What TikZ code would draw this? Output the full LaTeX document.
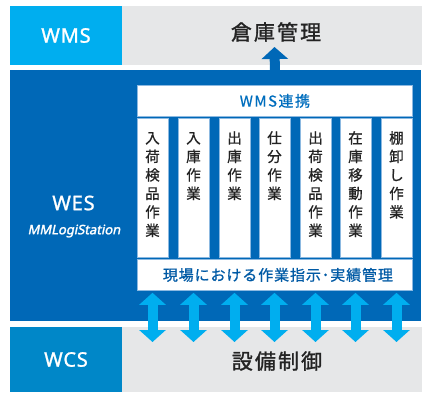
\documentclass[tikz,border=0pt]{standalone}
\usepackage{fontspec}
\setmainfont{Noto Sans}
\newfontfamily\jp{Noto Sans CJK JP}[FakeBold=0.8]
\newfontfamily\jpsp{Noto Sans CJK JP}[LetterSpace=10,FakeBold=0.6]
\newfontfamily\jptitle{Noto Sans CJK JP}[LetterSpace=10,FakeBold=1.3]
\newfontfamily\jpnarrow{Noto Sans CJK JP}[LetterSpace=6,FakeBold=0.9]
\newfontfamily\lsp{Noto Sans}[LetterSpace=4,FakeBold=1.2]
\newfontfamily\mmfont{Noto Sans}[FakeBold=2,FakeSlant=0.2]
\usetikzlibrary{arrows.meta}
\definecolor{wmscyan}{RGB}{0,174,239}
\definecolor{wesblue}{RGB}{0,104,183}
\definecolor{wcsblue}{RGB}{0,135,200}
\definecolor{bandgray}{RGB}{230,231,232}
\definecolor{boxline}{RGB}{140,185,225}
\definecolor{inkgray}{RGB}{35,35,35}
\definecolor{linkblue}{RGB}{0,110,190}
\definecolor{jissekiblue}{RGB}{0,90,165}
\newcommand{\tate}[1]{\parbox[t][139pt][t]{31pt}{\centering\rule{0pt}{25pt}#1}}

\begin{document}
\begin{tikzpicture}[x=1pt,y=-1pt,
    band/.style={anchor=north west, inner sep=0pt, outer sep=0pt},
    tag/.style={band, text=white, font=\lsp\fontsize{20pt}{24pt}\selectfont},
    title/.style={text=inkgray, font=\jptitle\fontsize{21pt}{24pt}\selectfont},
    wbox/.style={draw=boxline, line width=0.8pt, fill=white, inner sep=0pt, anchor=north west},
    sagyo/.style={wbox, anchor=north, text=inkgray, font=\jp\fontsize{14.5pt}{18.5pt}\selectfont},
    dbl/.style={wmscyan, line width=10pt, {Triangle[width=26pt,length=12pt]}-{Triangle[width=26pt,length=12pt]}},
    up/.style={wesblue, line width=10pt, -{Triangle[width=26pt,length=12pt]}}]
    \useasboundingbox (0,0) rectangle (424,392);
    \node[tag, fill=wmscyan, minimum width=112pt, minimum height=59pt] (wms) at (10,6) {WMS};
    \node[band, fill=bandgray, minimum width=300pt, minimum height=59pt] (soko) at (122,6) {};
    \node[title] (kanri) at (276,32) {倉庫管理};
    \node[band, fill=wesblue, minimum width=411pt, minimum height=251pt] (wes) at (10,70) {};
    \node[text=white, font=\lsp\fontsize{20pt}{24pt}\selectfont] (wesname) at (73.5,203) {WES};
    \node[text=white, font=\mmfont\fontsize{13pt}{16pt}\selectfont] (mmlogi) at (74,231) {MMLogiStation};
    \node[tag, fill=wcsblue, minimum width=112pt, minimum height=65pt] (wcs) at (10,327) {WCS};
    \node[band, fill=bandgray, minimum width=300pt, minimum height=65pt] (setsubi) at (122,327) {};
    \node[title] (seigyo) at (277,361) {設備制御};
    \node[wbox, minimum width=275pt, minimum height=31pt, text=linkblue, font=\jpsp\fontsize{15pt}{18pt}\selectfont] (renkei) at (137,85) {WMS連携};
    \foreach \n/\x/\t in {1/152.5/{入\\荷\\検\\品\\作\\業}, 2/193.5/{入\\庫\\作\\業}, 3/234.5/{出\\庫\\作\\業}, 4/274.5/{仕\\分\\作\\業}, 5/315.5/{出\\荷\\検\\品\\作\\業}, 6/355.5/{在\\庫\\移\\動\\作\\業}, 7/396.5/{棚\\卸\\し\\作\\業}}
        \node[sagyo, minimum width=31pt, minimum height=139pt] (c\n) at (\x,118) {\tate{\t}};
    \node[wbox, minimum width=275pt, minimum height=31pt, text=jissekiblue, font=\jpnarrow\fontsize{15pt}{18pt}\selectfont] (jisseki) at (137,259) {\hspace{6pt}現場における作業指示･実績管理};
    \coordinate (uptip) at (274.5,47);
    \draw[up] (renkei.north |- wes.north) -- (uptip);
    \foreach \n in {1,...,7}
        \draw[dbl] ([yshift=-2pt]jisseki.south -| c\n) -- ([yshift=-15pt]setsubi.north -| c\n);
\end{tikzpicture}
\end{document}
